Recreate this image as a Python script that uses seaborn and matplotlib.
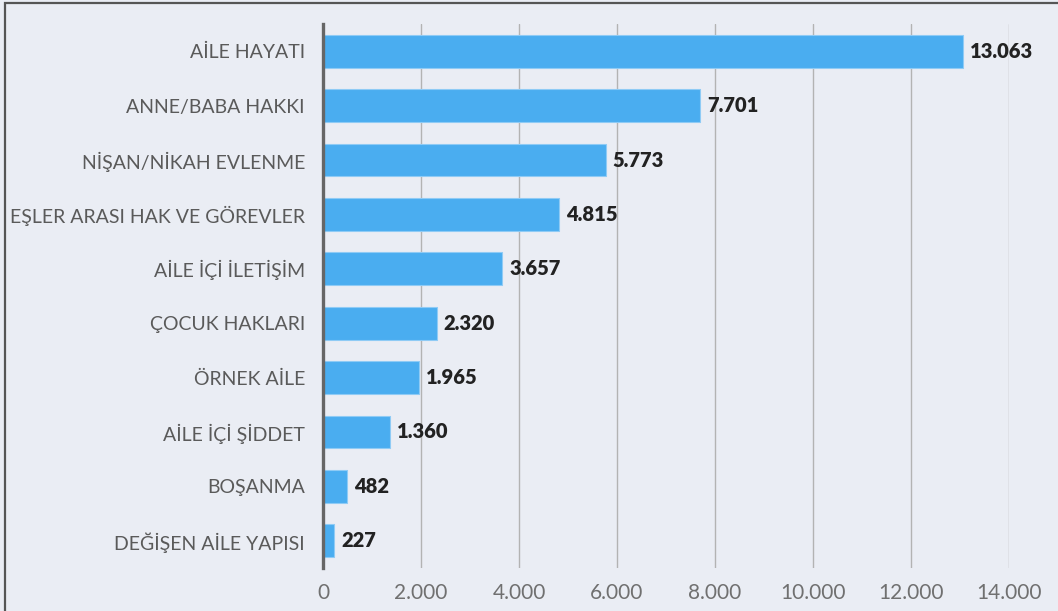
import seaborn as sns
import matplotlib.pyplot as plt
import pandas as pd
from matplotlib.patches import Rectangle

categories = ["AİLE HAYATI", "ANNE/BABA HAKKI", "NİŞAN/NİKAH EVLENME",
              "EŞLER ARASI HAK VE GÖREVLER", "AİLE İÇİ İLETİŞİM", "ÇOCUK HAKLARI",
              "ÖRNEK AİLE", "AİLE İÇİ ŞİDDET", "BOŞANMA", "DEĞİŞEN AİLE YAPISI"]
values = [13063, 7701, 5773, 4815, 3657, 2320, 1965, 1360, 482, 227]
xticks = [0, 2000, 4000, 6000, 8000, 10000, 12000, 14000]

def tr_fmt(v):
    return f"{v:,.0f}".replace(",", ".")

bg = "#eaedf4"
sns.set_style("white")
plt.rcParams['font.family'] = ['Lato', 'DejaVu Sans']

df = pd.DataFrame({"konu": categories, "sayi": values})

fig = plt.figure(figsize=(10.58, 6.11), dpi=100, facecolor=bg)
ax = fig.add_axes([0.3053, 0.0704, 0.6484, 0.8903])
ax.set_facecolor(bg)

sns.barplot(data=df, x="sayi", y="konu", orient="h", color="#4aadf0",
            width=0.6, saturation=1, edgecolor="#8fcbf5", linewidth=0.8, ax=ax)

ax.set_xlim(0, 14000)
ax.set_ylim(9.5, -0.5)
ax.set_xticks(xticks)
ax.set_xticklabels([tr_fmt(t) for t in xticks])
ax.xaxis.grid(True, color="#b3b3b3", linewidth=1)
ax.set_axisbelow(True)
ax.set_xlabel("")
ax.set_ylabel("")

for s in ["top", "right", "bottom"]:
    ax.spines[s].set_visible(False)
ax.spines["left"].set_color("#666666")
ax.spines["left"].set_linewidth(2.4)
ax.spines["left"].set_zorder(5)

ax.tick_params(axis="x", length=0, pad=11, labelsize=15, labelcolor="#707070")
ax.tick_params(axis="y", length=0, pad=13, labelsize=14, labelcolor="#5a5a5a")

ax.bar_label(ax.containers[0], labels=[tr_fmt(v) for v in values], padding=5,
             fontsize=14.5, fontweight="heavy", color="#222222")

fig.patches.append(Rectangle((5/1058, -0.05), 1.2, 0.995 + 0.05, transform=fig.transFigure,
                             fill=False, edgecolor="#555555", linewidth=1.6))

plt.savefig("out.png", dpi=100, facecolor=bg)
